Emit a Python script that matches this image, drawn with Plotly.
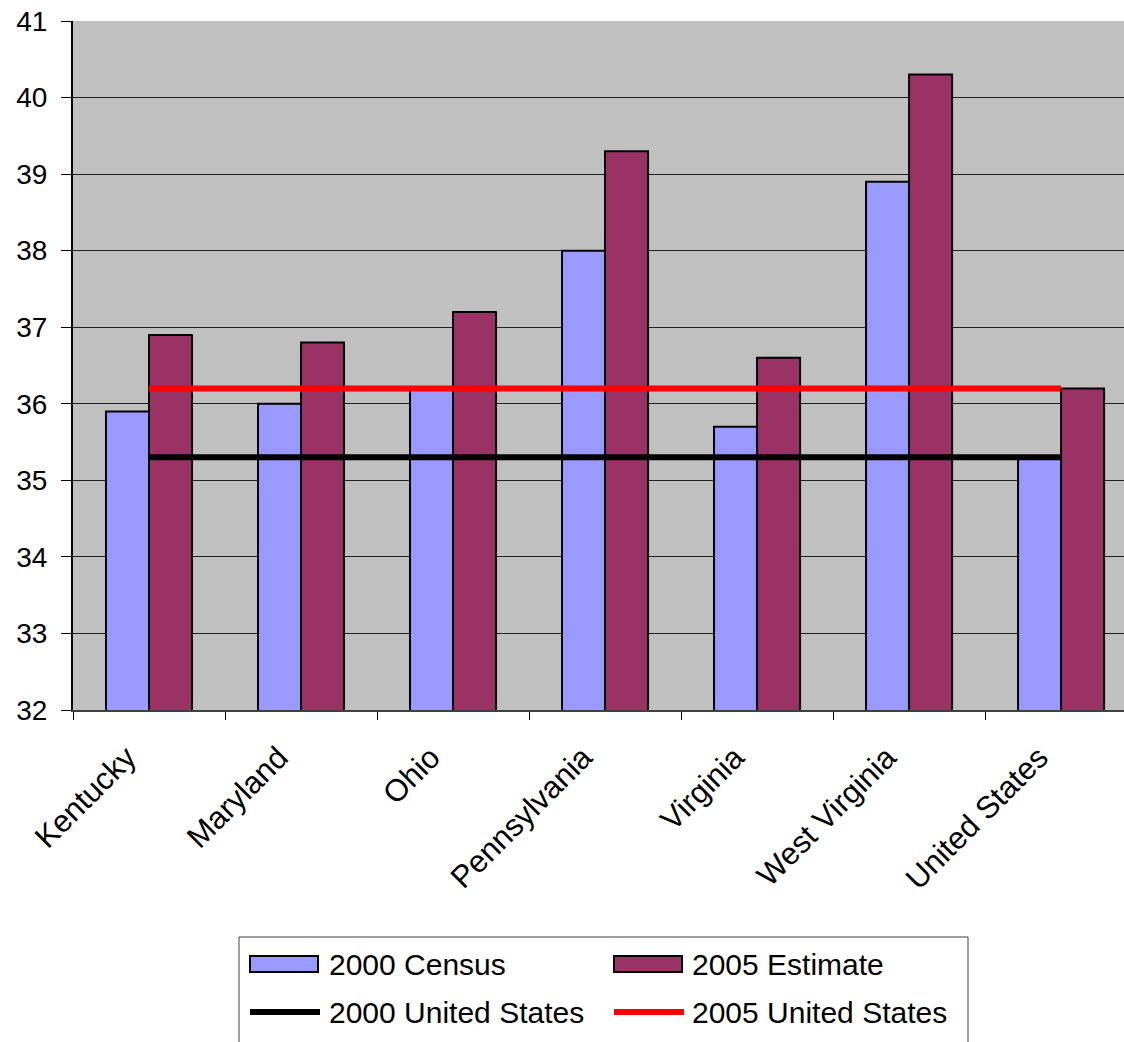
import plotly.graph_objects as go

# Median age by area, 2000 Census vs. 2005 estimate
areas = ["Kentucky", "Maryland", "Ohio", "Pennsylvania", "Virginia",
         "West Virginia", "United States"]
census_2000 = [35.9, 36.0, 36.2, 38.0, 35.7, 38.9, 35.3]
estimate_2005 = [36.9, 36.8, 37.2, 39.3, 36.6, 40.3, 36.2]
y_ticks = [32, 33, 34, 35, 36, 37, 38, 39, 40, 41]

series_names = ["2000 Census", "2005 Estimate", "2000 United States", "2005 United States"]
colors = ["#9999FF", "#993366", "#000000", "#FF0000"]

FONT = "Arial, Liberation Sans, sans-serif"

W, H = 1124, 1042
L, R, T, B = 73, 0, 21, 332
PW, PH = W - L - R, H - T - B


def px(x):
    return (x - L) / PW


def py(y):
    return (H - B - y) / PH


fig = go.Figure()
fig.add_trace(go.Bar(x=areas, y=census_2000, name=series_names[0],
                     marker=dict(color=colors[0], line=dict(color="black", width=2)),
                     showlegend=False))
fig.add_trace(go.Bar(x=areas, y=estimate_2005, name=series_names[1],
                     marker=dict(color=colors[1], line=dict(color="black", width=2)),
                     showlegend=False))

# national reference lines, spanning first to last category
us_2000 = census_2000[-1]
us_2005 = estimate_2005[-1]
fig.add_trace(go.Scatter(x=[areas[0], areas[-1]], y=[us_2000, us_2000], mode="lines",
                         name=series_names[2], line=dict(color=colors[2], width=6),
                         showlegend=False))
fig.add_trace(go.Scatter(x=[areas[0], areas[-1]], y=[us_2005, us_2005], mode="lines",
                         name=series_names[3], line=dict(color=colors[3], width=6),
                         showlegend=False))

# hand-built legend box below the chart
shapes = [dict(type="rect", xref="paper", yref="paper",
               x0=px(239), x1=px(968), y0=py(1060), y1=py(937),
               line=dict(color="#404040", width=1), fillcolor="white", layer="above")]
annotations = []
cols = [(250, 318, 327), (614, 682, 690)]
rows = [964, 1012]
for i, name in enumerate(series_names):
    c = cols[i % 2]
    r = rows[i // 2]
    if i < 2:
        shapes.append(dict(type="rect", xref="paper", yref="paper",
                           x0=px(c[0]), x1=px(c[1]), y0=py(r + 8), y1=py(r - 8),
                           fillcolor=colors[i], line=dict(color="black", width=2),
                           layer="above"))
    else:
        shapes.append(dict(type="line", xref="paper", yref="paper",
                           x0=px(c[0]), x1=px(c[1] + 2), y0=py(r), y1=py(r),
                           line=dict(color=colors[i], width=6), layer="above"))
    annotations.append(dict(xref="paper", yref="paper", x=px(c[2]), y=py(r),
                            text=name, showarrow=False, xanchor="left", yanchor="middle",
                            font=dict(family=FONT, size=30, color="black")))

fig.update_layout(
    width=W, height=H,
    margin=dict(l=L, r=R, t=T, b=B, autoexpand=False),
    paper_bgcolor="white",
    plot_bgcolor="#C0C0C0",
    barmode="group",
    bargap=0.434,
    bargroupgap=0,
    showlegend=False,
    font=dict(family=FONT, size=28, color="black"),
    shapes=shapes,
    annotations=annotations,
    xaxis=dict(
        range=[-0.5, 6.414],
        tickangle=-45,
        ticks="outside", tickson="boundaries", ticklen=8, tickcolor="black", tickwidth=1,
        showline=True, linecolor="#404040", linewidth=2,
        showgrid=False, zeroline=False,
        tickfont=dict(family=FONT, size=31, color="black"),
        ticklabelstandoff=15,
        ticklabelshift=-22,
        fixedrange=True,
    ),
    yaxis=dict(
        range=[32, 41],
        tickvals=y_ticks,
        ticks="outside", ticklen=10, tickcolor="black", tickwidth=1,
        showline=True, linecolor="black", linewidth=2,
        showgrid=True, gridcolor="#202020", gridwidth=1,
        zeroline=False,
        tickfont=dict(family=FONT, size=28, color="black"),
        ticklabelstandoff=8,
        fixedrange=True,
    ),
)

fig.write_html("out.html")
